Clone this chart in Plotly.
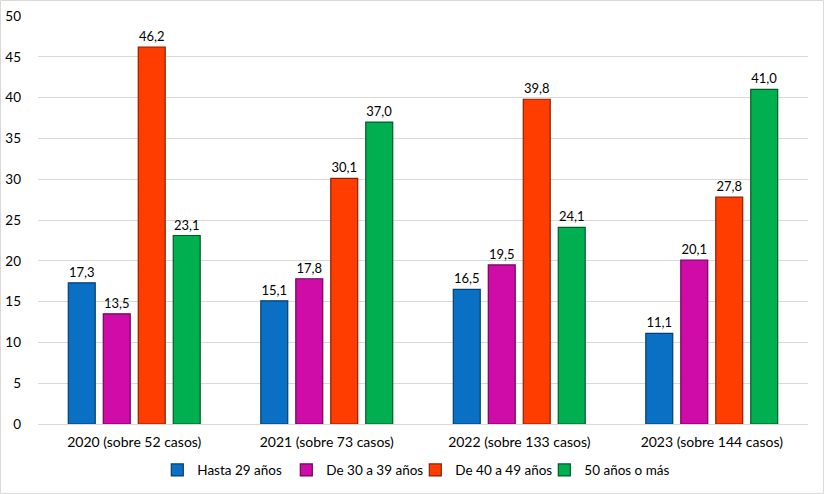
import plotly.graph_objects as go

categories = ["2020 (sobre 52 casos)", "2021 (sobre 73 casos)", "2022 (sobre 133 casos)", "2023 (sobre 144 casos)"]
series_names = ["Hasta 29 años", "De 30 a 39 años", "De 40 a 49 años", "50 años o más"]
hasta29 = [17.3, 15.1, 16.5, 11.1]
de30a39 = [13.5, 17.8, 19.5, 20.1]
de40a49 = [46.2, 30.1, 39.8, 27.8]
mas50 = [23.1, 37.0, 24.1, 41.0]
y_ticks = [0, 5, 10, 15, 20, 25, 30, 35, 40, 45, 50]

values = [hasta29, de30a39, de40a49, mas50]
colors = ["#0A70C4", "#CF0CA8", "#FF3D00", "#00B050"]
edges = ["#053E70", "#6E0659", "#8A2000", "#005A28"]

FONT = "Lato"
fig = go.Figure()
for name, vals, c, e in zip(series_names, values, colors, edges):
    fig.add_trace(go.Bar(
        x=categories, y=vals, name=name,
        marker=dict(color=c, line=dict(color=e, width=1.2)),
        texttemplate="%{y:.1f}", textposition="outside",
        textfont=dict(family=FONT, size=13, color="#000000"),
        cliponaxis=False,
    ))

fig.update_layout(
    width=824, height=494,
    margin=dict(l=38, r=16, t=16, b=70, autoexpand=False),
    paper_bgcolor="white", plot_bgcolor="white",
    barmode="group", bargap=0.273, bargroupgap=0.23,
    separators=",.",
    font=dict(family=FONT, size=13, color="#000000"),
    showlegend=True,
    legend=dict(orientation="h", x=0.49, xanchor="center", y=-0.113, yanchor="middle",
                font=dict(family=FONT, size=13.5), itemwidth=30, traceorder="normal",
                entrywidth=84, entrywidthmode="pixels"),
    xaxis=dict(showgrid=False, showline=True, linecolor="#D9D9D9", linewidth=1,
               tickfont=dict(family=FONT, size=14), ticks="", automargin=False,
               ticklabelstandoff=5),
    yaxis=dict(range=[0, 50], tickvals=y_ticks, showgrid=True, gridcolor="#D9D9D9",
               gridwidth=1, zeroline=False, showline=False, automargin=False,
               tickfont=dict(family=FONT, size=13.5), ticks="", ticklen=0,
               ticklabelstandoff=16),
)
fig.add_shape(type="rect", xref="paper", yref="paper",
              x0=-0.0487, x1=1.0201, y0=-0.170, y1=1.038,
              line=dict(color="#D9D9D9", width=1), fillcolor="rgba(0,0,0,0)", layer="below")

fig.write_html("out.html", config={"displayModeBar": False},
               post_script="document.body.style.margin='0px';")
